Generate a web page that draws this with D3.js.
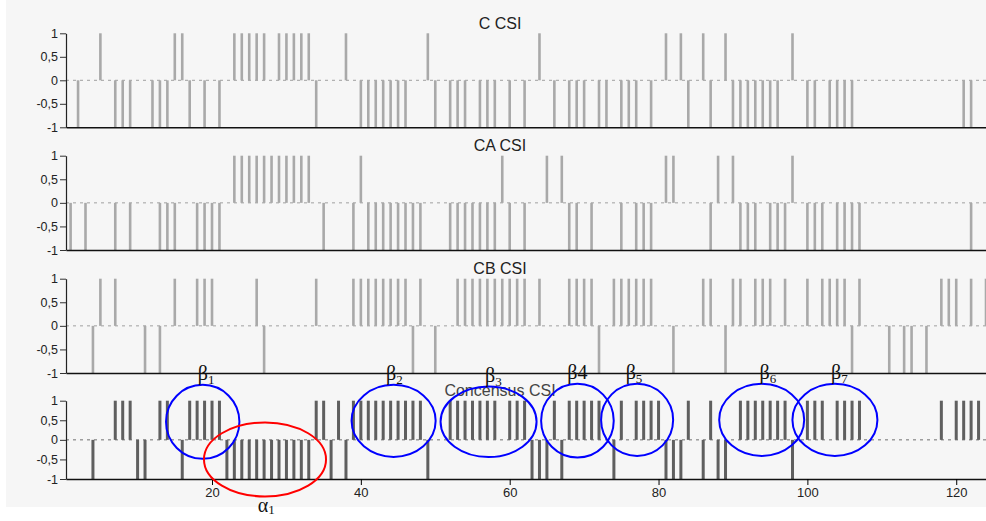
<!DOCTYPE html>
<html><head><meta charset="utf-8">
<script src="https://cdn.jsdelivr.net/npm/d3@7"></script>
<style>body{margin:0;background:#fff;} svg{display:block;}</style>
</head><body>
<script>
// ---------- data ----------
// positions 1..124 along the x axis
const positions = d3.range(1, 125);
const cCsi = [
 0,-1,0,0,1,0,-1,-1,-1,0,
 0,-1,-1,-1,1,1,-1,0,-1,0,
 -1,0,1,1,1,1,1,0,1,1,
 1,1,1,-1,0,0,0,1,0,-1,
 -1,-1,-1,-1,-1,-1,0,0,1,-1,
 0,-1,-1,-1,0,-1,-1,-1,0,-1,
 0,-1,0,1,0,-1,0,-1,-1,-1,
 0,-1,-1,0,-1,-1,-1,0,-1,0,
 1,0,1,-1,0,1,-1,0,1,-1,
 -1,-1,-1,-1,-1,-1,0,1,0,-1,
 -1,0,-1,-1,-1,-1,0,0,0,0,
 0,0,0,0,0,0,0,0,0,0,
 -1,-1,0,0];
const caCsi = [
 -1,0,-1,0,0,0,-1,0,-1,0,
 0,0,-1,-1,-1,0,0,-1,-1,-1,
 -1,0,1,1,1,1,1,1,1,1,
 1,1,1,0,-1,0,0,0,-1,1,
 -1,-1,-1,-1,-1,-1,-1,-1,0,0,
 0,-1,-1,-1,-1,-1,-1,-1,1,-1,
 0,-1,0,0,1,0,1,-1,-1,0,
 -1,0,0,0,-1,0,-1,-1,-1,0,
 1,1,0,0,0,0,-1,1,0,1,
 -1,-1,-1,0,-1,-1,-1,1,0,-1,
 -1,-1,0,-1,-1,-1,-1,0,0,0,
 0,0,0,0,0,0,0,0,0,0,
 0,-1,0,0];
const cbCsi = [
 0,0,0,-1,1,0,1,0,0,0,
 -1,0,-1,0,1,0,0,1,1,1,
 0,0,0,0,0,1,-1,0,0,0,
 0,0,0,1,0,0,0,0,1,1,
 1,1,1,1,1,1,-1,1,0,-1,
 0,0,1,1,1,1,1,1,1,1,
 1,1,0,1,0,0,0,1,1,1,
 1,-1,0,1,1,1,1,1,1,0,
 0,-1,0,0,0,1,1,0,-1,1,
 1,0,1,1,1,0,1,0,0,1,
 0,1,1,1,1,-1,1,0,0,0,
 -1,0,-1,-1,0,-1,0,1,1,1,
 0,1,0,1];
const consensusCsi = [
 0,0,0,-1,0,0,1,1,1,-1,
 -1,0,1,1,0,-1,1,1,1,1,
 1,-1,-1,-1,-1,-1,-1,-1,-1,-1,
 -1,-1,-1,1,1,-1,1,-1,1,1,
 1,1,1,1,1,1,1,1,-1,0,
 0,1,1,1,1,1,1,1,0,1,
 1,1,-1,-1,-1,1,-1,1,1,1,
 1,1,0,-1,1,0,1,1,1,1,
 -1,-1,-1,1,0,-1,1,-1,-1,0,
 1,1,1,1,1,1,1,-1,0,1,
 1,1,0,1,1,1,1,0,0,0,
 0,0,0,0,0,0,0,1,0,1,
 1,1,1,0];
const panelTitles = ["C CSI", "CA CSI", "CB CSI", "Concensus CSI"];
const yTickValues = [-1, -0.5, 0, 0.5, 1];
const xTickValues = [20, 40, 60, 80, 100, 120];
// annotations on the consensus panel (data units)
const ellipses = [
 {name:"β", sub:"1", cx:18.75, cy:0.46, rx:4.93, ry:0.945, lx:19.2, color:"#0000ff"},
 {name:"β", sub:"2", cx:44.4, cy:0.485, rx:5.65, ry:0.92, lx:44.5, color:"#0000ff"},
 {name:"β", sub:"3", cx:57.16, cy:0.46, rx:6.45, ry:0.9, lx:57.8, color:"#0000ff"},
 {name:"β4", sub:"", cx:69.1, cy:0.49, rx:4.88, ry:0.94, lx:69.1, color:"#0000ff"},
 {name:"β", sub:"5", cx:77.12, cy:0.51, rx:4.84, ry:0.92, lx:76.7, color:"#0000ff"},
 {name:"β", sub:"6", cx:93.86, cy:0.51, rx:5.71, ry:0.92, lx:94.7, color:"#0000ff"},
 {name:"β", sub:"7", cx:103.7, cy:0.51, rx:5.71, ry:0.92, lx:104.3, color:"#0000ff"},
 {name:"α", sub:"1", cx:27.12, cy:-0.5, rx:8.2, ry:0.945, lx:27.3, color:"#ff0000", below:true}
];

// ---------- drawing ----------
const W = 986, H = 521;
const svg = d3.select("body").append("svg").attr("width", W).attr("height", H);
svg.append("rect").attr("x", 6).attr("y", 0).attr("width", W - 6).attr("height", 507).attr("fill", "#f6f6f6");

const x = d3.scaleLinear().domain([0.38, 124]).range([66, 986]);

const layout = [
 {top:33.3, bottom:127.3, bar:"#a9a9a9", barW:2.6, zero:"#a0a0a0"},
 {top:155.7, bottom:250, bar:"#a9a9a9", barW:2.6, zero:"#a0a0a0"},
 {top:278.7, bottom:373, bar:"#a9a9a9", barW:2.6, zero:"#a0a0a0"},
 {top:400.7, bottom:479, bar:"#5f5f5f", barW:3, zero:"#707070"}
];
const series = [cCsi, caCsi, cbCsi, consensusCsi];
const fmt = d => String(d).replace(".", ",");

let consensusY = null;
series.forEach((vals, pi) => {
  const L = layout[pi];
  const y = d3.scaleLinear().domain([-1, 1]).range([L.bottom, L.top]);
  if (pi === 3) consensusY = y;
  const g = svg.append("g");
  // dotted zero line
  g.append("line").attr("x1", x.range()[0]).attr("x2", x.range()[1])
    .attr("y1", y(0)).attr("y2", y(0))
    .attr("stroke", L.zero).attr("stroke-width", 1).attr("stroke-dasharray", "3,4");
  // bars
  const data = positions.map((p, i) => ({p, v: vals[i]})).filter(d => d.v !== 0);
  g.selectAll("rect.bar").data(data).join("rect").attr("class", "bar")
    .attr("x", d => x(d.p) - L.barW / 2)
    .attr("y", d => Math.min(y(0), y(d.v)))
    .attr("width", L.barW)
    .attr("height", d => Math.abs(y(d.v) - y(0)))
    .attr("fill", L.bar);
  // title
  g.append("text").attr("x", 500).attr("y", L.top - 4.5)
    .attr("text-anchor", "middle").attr("font-family", "Liberation Sans, Arial, sans-serif")
    .attr("font-size", 16).attr("fill", pi === 3 ? "#444" : "#222").text(panelTitles[pi]);
  // y axis
  const ya = g.append("g").attr("transform", `translate(${x.range()[0]},0)`)
    .call(d3.axisLeft(y).tickValues(yTickValues).tickFormat(fmt).tickSize(6).tickSizeOuter(0).tickPadding(2));
  ya.selectAll("text").attr("font-family", "Liberation Sans, Arial, sans-serif").attr("font-size", 12.5).attr("fill", "#222");
  ya.select(".domain").attr("stroke", "#222").attr("stroke-width", 1.2);
  ya.selectAll(".tick line").attr("stroke", "#333");
  // x axis
  const xa = g.append("g").attr("transform", `translate(0,${L.bottom})`);
  if (pi === 3) {
    xa.call(d3.axisBottom(x).tickValues(xTickValues).tickSize(6).tickSizeOuter(0).tickPadding(3));
    xa.selectAll("text").attr("font-family", "Liberation Sans, Arial, sans-serif").attr("font-size", 13).attr("fill", "#222");
  } else {
    xa.call(d3.axisBottom(x).tickValues([]).tickSizeOuter(0));
  }
  xa.select(".domain").attr("stroke", "#111").attr("stroke-width", 1.5);
});

// annotations
const ag = svg.append("g");
ellipses.forEach(e => {
  const cxp = x(e.cx), cyp = consensusY(e.cy);
  const rxp = x(e.cx + e.rx) - cxp;
  const ryp = consensusY(0) - consensusY(e.ry);
  ag.append("ellipse").attr("cx", cxp).attr("cy", cyp).attr("rx", rxp).attr("ry", ryp)
    .attr("fill", "none").attr("stroke", e.color).attr("stroke-width", 2);
  const ty = e.below ? cyp + ryp + 16 : cyp - ryp - 5;
  const t = ag.append("text").attr("x", x(e.lx)).attr("y", ty).attr("text-anchor", "middle")
    .attr("font-family", "Liberation Serif, Times New Roman, serif").attr("font-size", 20).attr("fill", "#111");
  t.append("tspan").text(e.name);
  if (e.sub) t.append("tspan").attr("font-size", 13).attr("dy", e.below ? 2 : 4).text(e.sub);
});
</script>
</body></html>
